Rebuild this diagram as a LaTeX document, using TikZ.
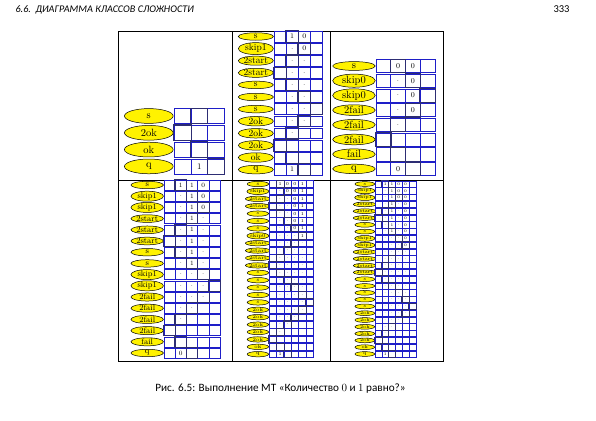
\documentclass[tikz,border=0pt]{standalone}
\usepackage{fontspec}
\newfontfamily\calib{Carlito}
\usepackage{tikz}
\usetikzlibrary{shapes.geometric}
\definecolor{tapeblue}{RGB}{30,30,200}
\definecolor{headblue}{RGB}{45,45,115}
\tikzset{state/.style={ellipse, draw=black, fill=yellow, inner sep=0pt, line width=0.5pt},
  cell/.style={rectangle, draw=tapeblue, fill=white, inner sep=0pt, line width=0.5pt},
  headcell/.style={draw=headblue, line width=1.1pt},
  frame/.style={draw=black, line width=0.7pt}}
\newcommand{\sym}[1]{\if x#1\else\if d#1.\else#1\fi\fi}
\newcommand{\tmpanel}[7]{%
  \begin{scope}[shift={#2}, x=#3pt, y=-#3pt,
      state/.append style={minimum width=2.9*#3pt, minimum height=#6*#3pt, font=\fontsize{#4}{#4}\selectfont},
      cell/.append style={minimum width=#3pt, minimum height=0.9*#3pt, font=\fontsize{#5}{#5}\selectfont}]
    \foreach \st/\hd/\tp [count=\i] in {#7} {
      \node[state] (#1s\i) at (-1.5,\i) {\st};
      \foreach \c [count=\j from 0] in \tp
        \node[cell] (#1c\i-\j) at (\j+0.5,\i) {\sym{\c}};
      \draw[headcell] (#1c\i-\hd.south west) rectangle (#1c\i-\hd.north east);
    }
  \end{scope}}

\begin{document}
\begin{tikzpicture}[x=1pt, y=-1pt]
	\useasboundingbox (0,0) rectangle (596,420);
	\node[anchor=base west, font=\calib\itshape\fontsize{10.2}{12}\selectfont] (head) at (12,13) {6.6.\ \ ДИАГРАММА КЛАССОВ СЛОЖНОСТИ};
	\node[anchor=base east, font=\calib\fontsize{10.5}{12}\selectfont] (page) at (573,13) {333};

	\coordinate (nw) at (118.5,31.5);
	\coordinate (se) at (443,361.5);
	\draw[frame] (nw) rectangle (se);
	\draw[frame] (nw |- 0,180) -- (se |- 0,180);
	\draw[frame] (232,0 |- nw) -- (232,0 |- se);
	\draw[frame] (330,0 |- nw) -- (330,0 |- se);

	\tmpanel{A}{(174,99.2)}{16.8}{10.5}{8.5}{0.88}{s/1/{x,x,x}, 2ok/0/{x,x,x}, ok/1/{x,x,x}, q/2/{x,1,x}}

	\tmpanel{B}{(274,24.4)}{12.1}{9.5}{7}{0.62}{s/1/{x,1,0,x}, skip1/2/{x,d,0,x}, 2start/1/{x,d,d,x},
		2start/0/{x,d,d,x}, s/1/{x,d,d,x}, s/2/{x,d,d,x}, s/3/{x,d,d,x}, 2ok/2/{x,d,d,x},
		2ok/1/{x,d,x,x}, 2ok/0/{x,x,x,x}, ok/1/{x,x,x,x}, q/2/{x,1,x,x}}

	\tmpanel{C}{(376,51.3)}{14.7}{10.5}{7.5}{0.6}{s/1/{x,0,0,x}, skip0/2/{x,d,0,x}, skip0/3/{x,d,0,x},
		2fail/2/{x,d,0,x}, 2fail/1/{x,d,x,x}, 2fail/0/{x,x,x,x}, fail/1/{x,x,x,x}, q/2/{x,0,x,x}}

	\tmpanel{D}{(164,173.8)}{11.2}{8}{6.5}{0.66}{s/1/{x,1,1,0,x}, skip1/2/{x,d,1,0,x}, skip1/3/{x,d,1,0,x},
		2start/2/{x,d,1,d,x}, 2start/1/{x,d,1,d,x}, 2start/0/{x,d,1,d,x}, s/1/{x,d,1,d,x}, s/2/{x,d,1,d,x},
		skip1/3/{x,d,d,d,x}, skip1/4/{x,d,d,d,x}, 2fail/3/{x,d,d,d,x}, 2fail/2/{x,d,d,x,x},
		2fail/1/{x,d,x,x,x}, 2fail/0/{x,x,x,x,x}, fail/1/{x,x,x,x,x}, q/2/{x,0,x,x,x}}

	\tmpanel{E}{(269,176.6)}{7.4}{5}{4.5}{0.72}{s/1/{x,1,0,0,1,x}, skip1/2/{x,d,0,0,1,x},
		2start/1/{x,d,d,0,1,x}, 2start/0/{x,d,d,0,1,x}, s/1/{x,d,d,0,1,x}, s/2/{x,d,d,0,1,x},
		s/3/{x,d,d,0,1,x}, skip0/4/{x,d,d,d,1,x}, 2start/3/{x,d,d,d,d,x}, 2start/2/{x,d,d,d,d,x},
		2start/1/{x,d,d,d,d,x}, 2start/0/{x,d,d,d,d,x}, s/1/{x,d,d,d,d,x}, s/2/{x,d,d,d,d,x},
		s/3/{x,d,d,d,d,x}, s/4/{x,d,d,d,d,x}, s/5/{x,d,d,d,d,x}, 2ok/4/{x,d,d,d,d,x},
		2ok/3/{x,d,d,d,x,x}, 2ok/2/{x,d,d,x,x,x}, 2ok/1/{x,d,x,x,x,x}, 2ok/0/{x,x,x,x,x,x},
		ok/1/{x,x,x,x,x,x}, q/2/{x,1,x,x,x,x}}

	\tmpanel{F}{(375,177.2)}{6.8}{4.6}{4}{0.7}{s/1/{x,1,1,0,0,x}, skip1/2/{x,d,1,0,0,x},
		skip1/3/{x,d,1,0,0,x}, 2start/2/{x,d,1,d,0,x}, 2start/1/{x,d,1,d,0,x}, 2start/0/{x,d,1,d,0,x},
		s/1/{x,d,1,d,0,x}, s/2/{x,d,1,d,0,x}, skip1/3/{x,d,d,d,0,x}, skip1/4/{x,d,d,d,0,x},
		2start/3/{x,d,d,d,d,x}, 2start/2/{x,d,d,d,d,x}, 2start/1/{x,d,d,d,d,x}, 2start/0/{x,d,d,d,d,x},
		s/1/{x,d,d,d,d,x}, s/2/{x,d,d,d,d,x}, s/3/{x,d,d,d,d,x}, s/4/{x,d,d,d,d,x}, s/5/{x,d,d,d,d,x},
		2ok/4/{x,d,d,d,d,x}, 2ok/3/{x,d,d,d,x,x}, 2ok/2/{x,d,d,x,x,x}, 2ok/1/{x,d,x,x,x,x},
		2ok/0/{x,x,x,x,x,x}, ok/1/{x,x,x,x,x,x}, q/2/{x,1,x,x,x,x}}

	\node[anchor=base, font=\calib\fontsize{11.2}{13}\selectfont] (caption) at (280.5,391) {Рис. 6.5: Выполнение МТ «Количество $0$ и $1$ равно?»};
\end{tikzpicture}
\end{document}
